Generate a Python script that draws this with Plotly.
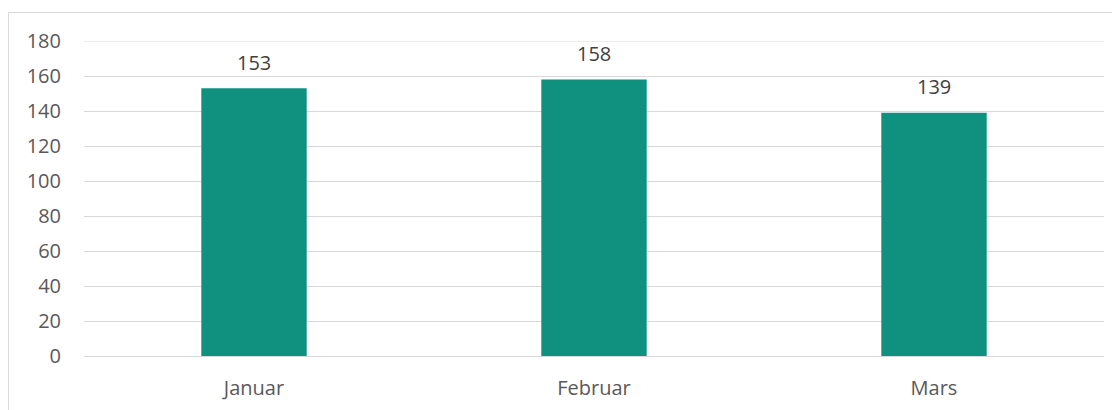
import plotly.graph_objects as go

categories = ["Januar", "Februar", "Mars"]
values = [153, 158, 139]
y_ticks = [0, 20, 40, 60, 80, 100, 120, 140, 160, 180]

# page body has an 8px default margin; work in figure coordinates = screen - 8
OFF = 8
W, H = 1112, 402
L = 84 - OFF
T = 41 - OFF
R = W - (1104 - OFF)
B = H - (356 - OFF)
pw, ph = W - L - R, H - T - B


def px(x):
    return (x - OFF - L) / pw


def py(y):
    return (H - B - (y - OFF)) / ph


FAM = "Open Sans, Liberation Sans, sans-serif"
font = dict(family=FAM, size=20, color="#595959")

fig = go.Figure(go.Bar(
    x=categories, y=values,
    marker=dict(color="#10907F", line=dict(width=0)),
    width=0.31,
))

for c, v in zip(categories, values):
    fig.add_annotation(x=c, y=v, text=str(v), showarrow=False, yanchor="middle",
                       yshift=26, font=dict(size=20, color="#404040", family=FAM))

# top gridline at the range edge
fig.add_shape(type="line", xref="paper", yref="y", x0=0, x1=1, y0=180, y1=180,
              line=dict(color="#D9D9D9", width=1), layer="below")

fig.update_layout(
    width=W, height=H, autosize=False,
    margin=dict(l=L, r=R, t=T, b=B, autoexpand=False),
    paper_bgcolor="white", plot_bgcolor="white",
    font=font, showlegend=False,
    xaxis=dict(showgrid=False, showline=False, ticks="outside", ticklen=14, automargin=False,
               tickcolor="rgba(0,0,0,0)", tickfont=font),
    yaxis=dict(range=[0, 180], tickvals=y_ticks, showgrid=True, gridcolor="#D9D9D9",
               gridwidth=1, zeroline=True, zerolinecolor="#D9D9D9", zerolinewidth=1,
               automargin=False,
               ticks="outside", ticklen=18, tickcolor="rgba(0,0,0,0)", tickfont=font),
)
fig.add_shape(type="rect", xref="paper", yref="paper",
              x0=px(8.5), x1=px(1130), y0=py(12.5), y1=py(430),
              line=dict(color="#D9D9D9", width=1), fillcolor="rgba(0,0,0,0)", layer="below")

fig.write_html("out.html")
